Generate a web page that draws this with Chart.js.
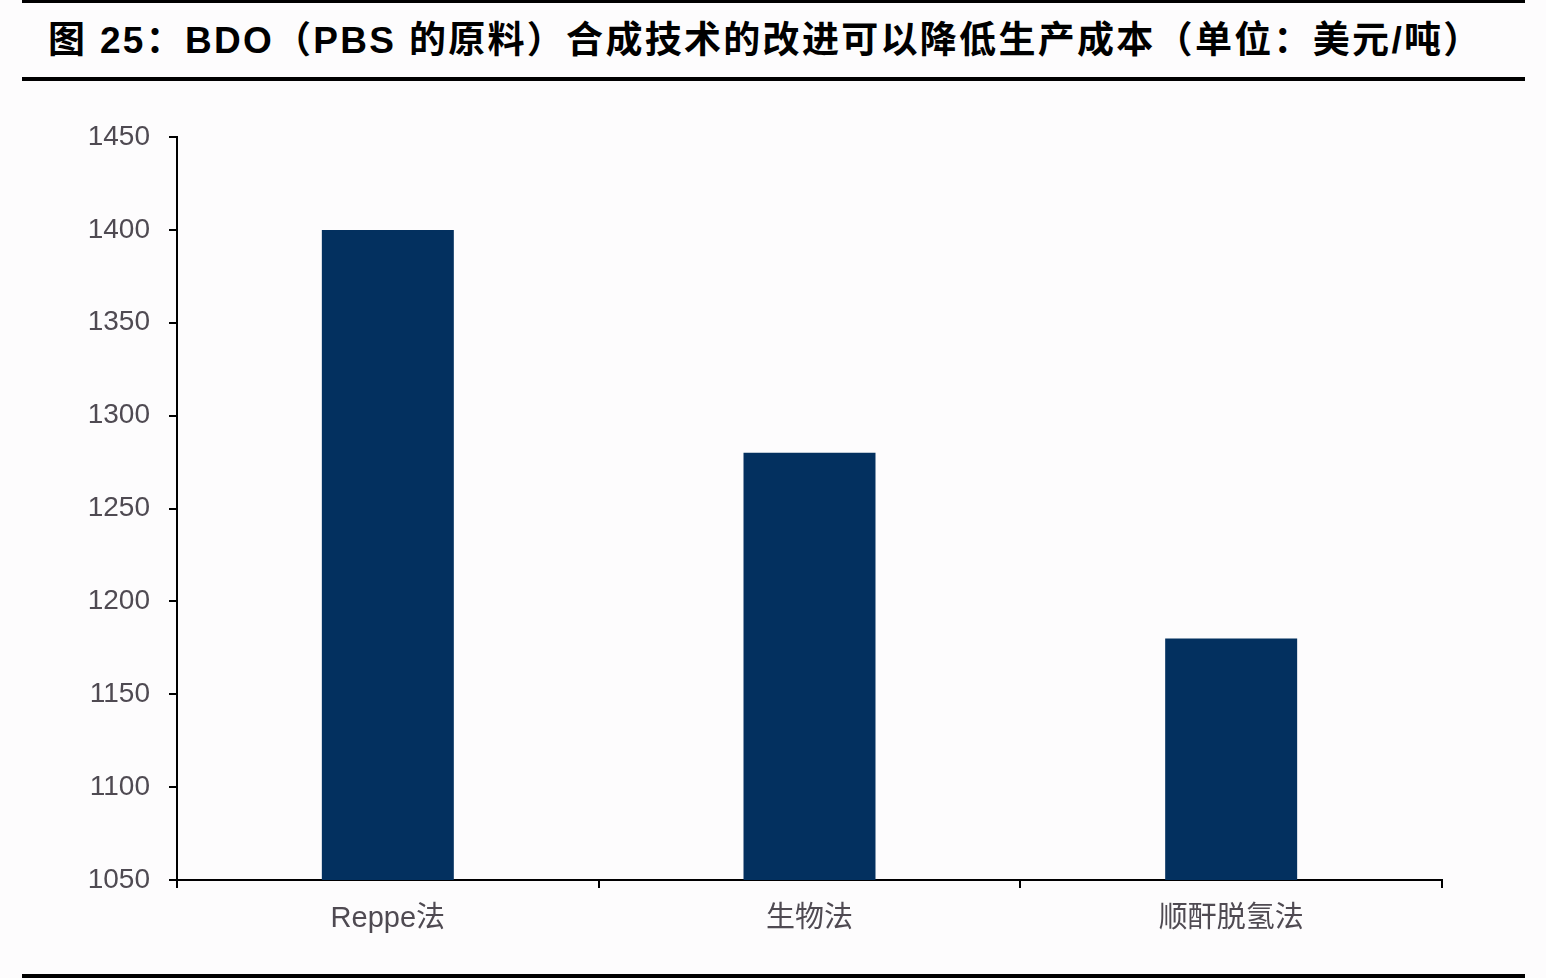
<!DOCTYPE html>
<html>
<head>
<meta charset="utf-8">
<script src="https://cdn.jsdelivr.net/npm/chart.js@4"></script>
<style>
  html, body { margin: 0; padding: 0; background: #fdfcfd; }
  #page { position: relative; width: 1546px; height: 978px; overflow: hidden; }
  .rule { position: absolute; left: 22px; width: 1503px; background: #000; }
  #title {
    position: absolute; left: 48px; top: 10px;
    font-family: "Liberation Sans", "Noto Sans CJK SC", sans-serif;
    font-weight: bold; font-size: 37px; letter-spacing: 2.3px; color: #000; white-space: nowrap;
  }
  #wrap { position: absolute; left: 0; top: 0; width: 1546px; height: 978px; }
</style>
</head>
<body>
<div id="page">
  <div class="rule" style="top:0;height:3px"></div>
  <div id="title">图 25：BDO（PBS 的原料）合成技术的改进可以降低生产成本（单位：美元/吨）</div>
  <div class="rule" style="top:77px;height:4px"></div>
  <div id="wrap"><canvas id="chart"></canvas></div>
  <div class="rule" style="top:974px;height:4px"></div>
</div>
<script>
var methods = ['Reppe法', '生物法', '顺酐脱氢法'];
var costs = [1400, 1280, 1180]; // 美元/吨

var fontFamily = '"Liberation Sans", "Noto Sans CJK SC", sans-serif';
var labelColor = '#4f4a52';

new Chart(document.getElementById('chart'), {
  type: 'bar',
  data: {
    labels: methods,
    datasets: [{
      data: costs,
      backgroundColor: '#03305f',
      barPercentage: 0.313,
      categoryPercentage: 1
    }]
  },
  options: {
    responsive: true,
    maintainAspectRatio: false,
    animation: false,
    layout: { padding: { top: 137, right: 104, bottom: 0, left: 0 } },
    plugins: { legend: { display: false }, tooltip: { enabled: false } },
    scales: {
      x: {
        afterFit: function (s) { s.height = 98; },
        grid: { drawOnChartArea: false, drawTicks: true, tickLength: 8, color: '#000', lineWidth: 2 },
        border: { display: true, color: '#000', width: 2 },
        ticks: { color: labelColor, font: { family: fontFamily, size: 29 }, padding: 14 }
      },
      y: {
        min: 1050,
        max: 1450,
        afterFit: function (s) { s.width = 177; },
        grid: { drawOnChartArea: false, drawTicks: true, tickLength: 8, color: '#000', lineWidth: 2 },
        border: { display: true, color: '#000', width: 2 },
        ticks: {
          stepSize: 50, color: labelColor, font: { family: fontFamily, size: 28 }, padding: 19,
          callback: function (v) { return String(v); }
        }
      }
    }
  }
});
</script>
</body>
</html>
